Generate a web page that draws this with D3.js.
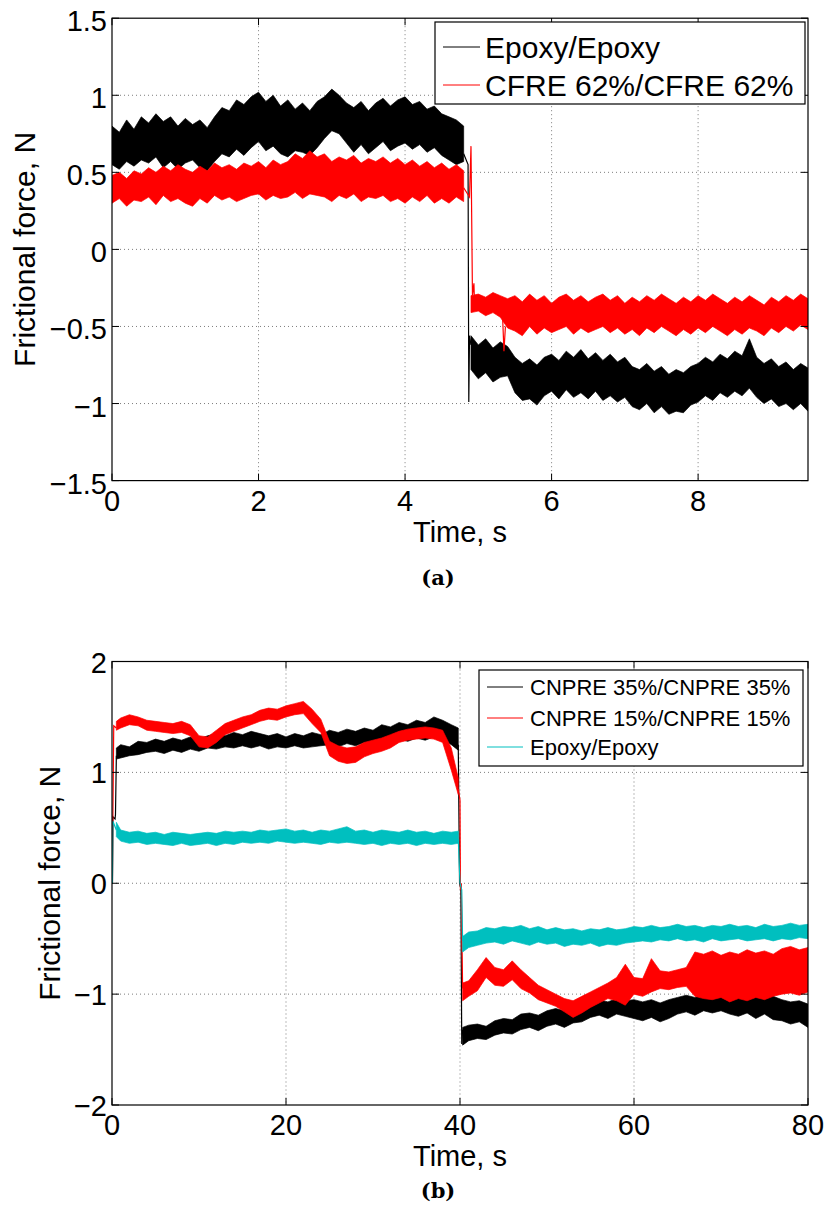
<!DOCTYPE html>
<html><head><meta charset="utf-8">
<script src="https://cdn.jsdelivr.net/npm/d3@7"></script>
<style>body{margin:0;background:#fff} svg{display:block}</style>
</head><body>
<svg id="chart" width="830" height="1220"></svg>
<script>
// ---------------- Panel (a) data ----------------
const xTicksA = [0, 2, 4, 6, 8];
const yTicksA = [-1.5, -1, -0.5, 0, 0.5, 1, 1.5];
const legendA = ["Epoxy/Epoxy", "CFRE 62%/CFRE 62%"];

const tA1 = [0,0.1,0.2,0.3,0.4,0.5,0.6,0.7,0.8,0.9,1.0,1.1,1.2,1.3,1.4,1.5,1.6,1.7,1.8,1.9,2.0,2.1,2.2,2.3,2.4,2.5,2.6,2.7,2.8,2.9,3.0,3.1,3.2,3.3,3.4,3.5,3.6,3.7,3.8,3.9,4.0,4.1,4.2,4.3,4.4,4.5,4.6,4.7,4.8];
const epoxyA_hi1 = [0.80,0.76,0.84,0.78,0.86,0.82,0.88,0.83,0.86,0.80,0.85,0.81,0.84,0.79,0.86,0.92,0.90,0.97,0.94,0.99,1.02,0.96,1.00,0.93,0.97,0.91,0.95,0.90,0.96,0.99,1.04,1.00,0.95,0.92,0.96,0.90,0.95,0.98,0.93,0.97,0.99,0.94,0.96,0.91,0.93,0.88,0.86,0.84,0.80];
const epoxyA_lo1 = [0.55,0.52,0.57,0.54,0.58,0.56,0.60,0.53,0.57,0.52,0.56,0.58,0.53,0.51,0.57,0.62,0.60,0.65,0.61,0.66,0.70,0.64,0.67,0.62,0.60,0.64,0.63,0.61,0.66,0.72,0.77,0.75,0.69,0.63,0.68,0.62,0.66,0.70,0.64,0.67,0.69,0.65,0.68,0.63,0.66,0.61,0.58,0.55,0.57];
const cfreA_hi1 = [0.48,0.50,0.46,0.51,0.49,0.53,0.50,0.54,0.51,0.55,0.52,0.50,0.54,0.51,0.56,0.53,0.55,0.52,0.56,0.54,0.57,0.53,0.58,0.55,0.57,0.62,0.59,0.64,0.60,0.62,0.57,0.60,0.58,0.61,0.56,0.59,0.57,0.60,0.56,0.59,0.55,0.58,0.54,0.57,0.53,0.56,0.52,0.55,0.51];
const cfreA_lo1 = [0.30,0.33,0.28,0.32,0.31,0.34,0.29,0.35,0.31,0.33,0.30,0.28,0.33,0.30,0.35,0.32,0.34,0.31,0.33,0.35,0.36,0.32,0.35,0.33,0.34,0.37,0.33,0.36,0.35,0.34,0.31,0.35,0.33,0.36,0.31,0.34,0.33,0.35,0.31,0.33,0.30,0.34,0.31,0.35,0.30,0.33,0.30,0.34,0.31];

const tA2 = [4.9,5.0,5.1,5.2,5.3,5.4,5.5,5.6,5.7,5.8,5.9,6.0,6.1,6.2,6.3,6.4,6.5,6.6,6.7,6.8,6.9,7.0,7.1,7.2,7.3,7.4,7.5,7.6,7.7,7.8,7.9,8.0,8.1,8.2,8.3,8.4,8.5,8.6,8.7,8.8,8.9,9.0,9.1,9.2,9.3,9.4,9.5];
const epoxyA_hi2 = [-0.56,-0.62,-0.58,-0.64,-0.60,-0.63,-0.70,-0.74,-0.71,-0.75,-0.70,-0.68,-0.72,-0.66,-0.70,-0.65,-0.71,-0.67,-0.72,-0.68,-0.73,-0.70,-0.76,-0.78,-0.74,-0.79,-0.76,-0.81,-0.78,-0.80,-0.76,-0.74,-0.70,-0.73,-0.68,-0.71,-0.66,-0.69,-0.58,-0.70,-0.74,-0.71,-0.76,-0.73,-0.78,-0.74,-0.77];
const epoxyA_lo2 = [-0.78,-0.84,-0.80,-0.86,-0.83,-0.82,-0.93,-0.98,-0.97,-1.01,-0.95,-0.92,-0.97,-0.91,-0.96,-0.93,-0.97,-0.92,-0.98,-0.95,-0.99,-0.96,-1.02,-1.04,-1.00,-1.06,-1.02,-1.07,-1.05,-1.06,-1.01,-0.99,-0.95,-0.98,-0.93,-0.96,-0.92,-0.95,-0.90,-0.96,-1.00,-0.97,-1.02,-1.00,-1.04,-1.00,-1.05];
const cfreA_hi2 = [-0.30,-0.29,-0.31,-0.28,-0.30,-0.32,-0.30,-0.34,-0.29,-0.33,-0.30,-0.35,-0.31,-0.29,-0.33,-0.30,-0.34,-0.31,-0.29,-0.33,-0.30,-0.35,-0.31,-0.34,-0.30,-0.33,-0.29,-0.32,-0.35,-0.31,-0.34,-0.30,-0.33,-0.29,-0.32,-0.35,-0.31,-0.34,-0.30,-0.33,-0.36,-0.31,-0.34,-0.30,-0.33,-0.29,-0.32];
const cfreA_lo2 = [-0.41,-0.40,-0.43,-0.41,-0.44,-0.51,-0.53,-0.56,-0.50,-0.55,-0.51,-0.54,-0.52,-0.50,-0.55,-0.51,-0.54,-0.52,-0.50,-0.54,-0.51,-0.55,-0.52,-0.56,-0.51,-0.54,-0.50,-0.53,-0.56,-0.52,-0.55,-0.51,-0.54,-0.50,-0.53,-0.56,-0.52,-0.55,-0.51,-0.53,-0.56,-0.51,-0.54,-0.50,-0.53,-0.49,-0.52];

// transitions / isolated spikes (time, value)
const epoxyA_jump = [[4.80,0.62],[4.86,0.55],[4.87,-0.99],[4.88,-0.56],[4.90,-0.62]];
const cfreA_jump = [[4.80,0.40],[4.88,0.34],[4.90,0.67],[4.92,-0.30],[4.94,-0.22],[4.95,-0.38]];
const cfreA_spike = [[5.33,-0.42],[5.35,-0.66],[5.37,-0.50]];

// ---------------- Panel (b) data ----------------
const xTicksB = [0, 20, 40, 60, 80];
const yTicksB = [-2, -1, 0, 1, 2];
const legendB = ["CNPRE 35%/CNPRE 35%", "CNPRE 15%/CNPRE 15%", "Epoxy/Epoxy"];

const tB1 = [0.5,1,2,3,4,5,6,7,8,9,10,11,12,13,14,15,16,17,18,19,20,21,22,23,24,25,26,27,28,29,30,31,32,33,34,35,36,37,38,39,39.8];
const cn35_hi1 = [1.22,1.25,1.23,1.28,1.27,1.30,1.28,1.31,1.29,1.32,1.30,1.33,1.35,1.33,1.36,1.34,1.37,1.35,1.33,1.35,1.32,1.35,1.33,1.36,1.34,1.38,1.36,1.39,1.37,1.40,1.38,1.43,1.41,1.45,1.43,1.47,1.45,1.50,1.47,1.43,1.40];
const cn35_lo1 = [1.12,1.13,1.15,1.16,1.18,1.19,1.17,1.20,1.18,1.21,1.19,1.22,1.21,1.23,1.22,1.24,1.22,1.24,1.21,1.23,1.22,1.24,1.22,1.23,1.24,1.25,1.23,1.26,1.24,1.27,1.25,1.28,1.27,1.30,1.28,1.31,1.29,1.32,1.30,1.25,1.20];
const cn15_hi1 = [1.46,1.49,1.52,1.50,1.47,1.46,1.45,1.44,1.46,1.43,1.33,1.32,1.38,1.44,1.47,1.50,1.52,1.56,1.58,1.57,1.60,1.62,1.64,1.57,1.48,1.28,1.24,1.22,1.23,1.27,1.29,1.31,1.34,1.37,1.39,1.40,1.41,1.40,1.38,1.22,0.95];
const cn15_lo1 = [1.38,1.40,1.43,1.42,1.38,1.37,1.36,1.35,1.36,1.33,1.23,1.22,1.27,1.34,1.37,1.40,1.43,1.46,1.48,1.47,1.50,1.52,1.53,1.44,1.36,1.15,1.10,1.08,1.09,1.14,1.17,1.19,1.22,1.27,1.29,1.30,1.31,1.30,1.27,1.02,0.80];
const epB_hi1 = [0.55,0.48,0.46,0.47,0.45,0.46,0.44,0.46,0.45,0.44,0.45,0.46,0.45,0.47,0.46,0.47,0.46,0.48,0.47,0.48,0.49,0.47,0.48,0.46,0.48,0.47,0.49,0.51,0.47,0.48,0.46,0.48,0.47,0.46,0.48,0.46,0.47,0.45,0.47,0.46,0.47];
const epB_lo1 = [0.42,0.38,0.36,0.37,0.35,0.36,0.35,0.34,0.36,0.34,0.35,0.36,0.34,0.36,0.35,0.37,0.36,0.37,0.36,0.38,0.37,0.36,0.37,0.36,0.35,0.37,0.36,0.37,0.36,0.35,0.36,0.34,0.36,0.35,0.36,0.34,0.36,0.35,0.36,0.35,0.36];

const tB2 = [40.3,41,42,43,44,45,46,47,48,49,50,51,52,53,54,55,56,57,58,59,60,61,62,63,64,65,66,67,68,69,70,71,72,73,74,75,76,77,78,79,80];
const cn35_hi2 = [-1.30,-1.28,-1.27,-1.29,-1.24,-1.22,-1.23,-1.18,-1.17,-1.19,-1.15,-1.13,-1.15,-1.12,-1.10,-1.07,-1.05,-1.07,-1.04,-1.06,-1.05,-1.07,-1.05,-1.08,-1.05,-1.03,-1.01,-1.03,-1.00,-1.02,-0.99,-1.02,-1.00,-1.03,-1.01,-0.99,-1.02,-1.05,-1.07,-1.06,-1.09];
const cn35_lo2 = [-1.46,-1.42,-1.40,-1.41,-1.37,-1.35,-1.36,-1.32,-1.30,-1.33,-1.29,-1.27,-1.30,-1.26,-1.25,-1.21,-1.19,-1.22,-1.18,-1.20,-1.22,-1.24,-1.21,-1.25,-1.22,-1.18,-1.16,-1.19,-1.15,-1.17,-1.15,-1.18,-1.20,-1.17,-1.22,-1.18,-1.23,-1.24,-1.27,-1.25,-1.30];
const cn15_hi2 = [-0.90,-0.88,-0.78,-0.67,-0.76,-0.78,-0.70,-0.78,-0.85,-0.92,-0.96,-1.00,-1.04,-1.06,-1.02,-0.98,-0.94,-0.90,-0.85,-0.73,-0.85,-0.86,-0.68,-0.79,-0.80,-0.78,-0.76,-0.62,-0.64,-0.61,-0.65,-0.62,-0.64,-0.60,-0.63,-0.61,-0.64,-0.59,-0.57,-0.60,-0.58];
const cn15_lo2 = [-1.06,-1.02,-0.97,-0.85,-0.92,-0.93,-0.87,-0.95,-0.99,-1.05,-1.08,-1.11,-1.16,-1.21,-1.17,-1.12,-1.08,-1.04,-1.06,-1.10,-1.00,-1.02,-0.98,-0.95,-0.96,-0.94,-0.93,-1.02,-1.04,-1.05,-1.03,-1.07,-1.04,-1.06,-1.03,-1.05,-1.02,-1.00,-0.99,-1.01,-0.98];
const epB_hi2 = [-0.48,-0.44,-0.43,-0.40,-0.41,-0.39,-0.40,-0.38,-0.41,-0.39,-0.42,-0.40,-0.42,-0.41,-0.43,-0.41,-0.42,-0.40,-0.42,-0.41,-0.39,-0.40,-0.38,-0.40,-0.39,-0.37,-0.39,-0.38,-0.40,-0.38,-0.39,-0.37,-0.39,-0.38,-0.40,-0.37,-0.39,-0.38,-0.36,-0.38,-0.37];
const epB_lo2 = [-0.62,-0.58,-0.56,-0.54,-0.53,-0.55,-0.52,-0.54,-0.56,-0.53,-0.55,-0.54,-0.57,-0.55,-0.56,-0.54,-0.57,-0.55,-0.56,-0.54,-0.53,-0.52,-0.53,-0.51,-0.52,-0.50,-0.52,-0.51,-0.53,-0.50,-0.52,-0.51,-0.50,-0.52,-0.51,-0.50,-0.52,-0.50,-0.51,-0.49,-0.50];

const cn35_start = [[0.05,0.0],[0.10,0.60],[0.35,0.58],[0.40,0.62],[0.50,1.15]];
const cn35_jump = [[39.8,1.25],[39.95,0.0],[40.1,-0.05],[40.2,-1.45],[40.3,-1.32]];
const cn15_start = [[0.05,0.0],[0.10,0.60],[0.20,1.42],[0.50,1.40]];
const cn15_jump = [[39.8,0.85],[40.0,0.75],[40.05,-0.06],[40.15,0.0],[40.3,-0.95]];
const epB_start = [[0.0,0.0],[0.05,0.0],[0.10,0.56],[0.50,0.48]];
const epB_jump = [[39.8,0.40],[40.0,0.0],[40.2,-0.06],[40.3,-0.52]];

// ---------------- drawing ----------------
const svg = d3.select("#chart");
const FONT = "'Liberation Sans', Arial, Helvetica, sans-serif";
const fmt = v => (v < 0 ? "\u2212" : "") + Math.abs(v);

function band(t, hi, lo) { return t.map((tt, i) => ({t: tt, hi: hi[i], lo: lo[i]})); }

function drawPanel(cfg) {
  const x = d3.scaleLinear().domain(cfg.xDomain).range([cfg.left, cfg.right]);
  const y = d3.scaleLinear().domain(cfg.yDomain).range([cfg.bottom, cfg.top]);
  const g = svg.append("g");
  const clipId = "clip" + cfg.id;
  g.append("clipPath").attr("id", clipId).append("rect")
    .attr("x", cfg.left).attr("y", cfg.top).attr("width", cfg.right - cfg.left).attr("height", cfg.bottom - cfg.top);

  // grid
  const grid = g.append("g").attr("stroke", "#6e6e6e").attr("stroke-width", 0.9).attr("stroke-dasharray", "1,3");
  cfg.xTicks.filter(v => v > cfg.xDomain[0] && v < cfg.xDomain[1]).forEach(v => {
    grid.append("line").attr("x1", x(v)).attr("x2", x(v)).attr("y1", cfg.top).attr("y2", cfg.bottom);
  });
  cfg.yTicks.filter(v => v > cfg.yDomain[0] && v < cfg.yDomain[1]).forEach(v => {
    grid.append("line").attr("x1", cfg.left).attr("x2", cfg.right).attr("y1", y(v)).attr("y2", y(v));
  });

  // series
  const plot = g.append("g").attr("clip-path", `url(#${clipId})`);
  const area = d3.area().x(d => x(d.t)).y0(d => y(d.lo)).y1(d => y(d.hi));
  const line = d3.line().x(d => x(d[0])).y(d => y(d[1]));
  cfg.series.forEach(s => {
    s.bands.forEach(b => {
      plot.append("path").datum(b).attr("d", area)
        .attr("fill", s.color).attr("stroke", s.color).attr("stroke-width", 0.7).attr("stroke-linejoin", "miter");
    });
    s.lines.forEach(l => {
      plot.append("path").datum(l).attr("d", line)
        .attr("fill", "none").attr("stroke", s.color).attr("stroke-width", 1.2);
    });
  });

  // box and ticks
  g.append("rect").attr("x", cfg.left).attr("y", cfg.top)
    .attr("width", cfg.right - cfg.left).attr("height", cfg.bottom - cfg.top)
    .attr("fill", "none").attr("stroke", "#000").attr("stroke-width", 1.2);
  const tl = 7;
  const ticks = g.append("g").attr("stroke", "#000").attr("stroke-width", 1);
  cfg.xTicks.forEach(v => {
    ticks.append("line").attr("x1", x(v)).attr("x2", x(v)).attr("y1", cfg.bottom).attr("y2", cfg.bottom - tl);
    ticks.append("line").attr("x1", x(v)).attr("x2", x(v)).attr("y1", cfg.top).attr("y2", cfg.top + tl);
  });
  cfg.yTicks.forEach(v => {
    ticks.append("line").attr("x1", cfg.left).attr("x2", cfg.left + tl).attr("y1", y(v)).attr("y2", y(v));
    ticks.append("line").attr("x1", cfg.right).attr("x2", cfg.right - tl).attr("y1", y(v)).attr("y2", y(v));
  });

  // tick labels
  const lab = g.append("g").attr("font-family", FONT).attr("fill", "#000");
  cfg.xTicks.forEach(v => {
    lab.append("text").attr("x", x(v)).attr("y", cfg.bottom + 30).attr("font-size", 29)
      .attr("text-anchor", "middle").text(fmt(v));
  });
  cfg.yTicks.forEach(v => {
    lab.append("text").attr("x", cfg.left - 5).attr("y", y(v) + cfg.yLabOff).attr("font-size", 29)
      .attr("text-anchor", "end").text(fmt(v));
  });
  lab.append("text").attr("x", (cfg.left + cfg.right) / 2).attr("y", cfg.bottom + 61).attr("font-size", 29)
    .attr("text-anchor", "middle").text("Time, s");
  lab.append("text").attr("transform", `translate(${cfg.yTitleX},${(cfg.top + cfg.bottom) / 2}) rotate(-90)`)
    .attr("font-size", 30).attr("text-anchor", "middle").text("Frictional force, N");

  // legend
  const L = cfg.legend;
  const lg = g.append("g");
  lg.append("rect").attr("x", L.x).attr("y", L.y).attr("width", L.w).attr("height", L.h)
    .attr("fill", "#fff").attr("stroke", "#000").attr("stroke-width", 1.2);
  L.labels.forEach((txt, i) => {
    const cy = L.rowY[i];
    lg.append("line").attr("x1", L.lineX[0]).attr("x2", L.lineX[1]).attr("y1", cy).attr("y2", cy)
      .attr("stroke", cfg.series[i].color).attr("stroke-width", 1);
    lg.append("text").attr("x", L.textX).attr("y", cy).attr("dy", "0.35em")
      .attr("font-family", FONT).attr("font-size", L.fs).attr("fill", "#000").text(txt);
  });

  // sub caption
  svg.append("text").attr("x", (cfg.left + cfg.right) / 2 - 22).attr("y", cfg.capY)
    .attr("text-anchor", "middle").attr("font-family", "'DejaVu Serif', serif").attr("font-weight", "bold")
    .attr("font-size", 21).text(cfg.caption);
}

drawPanel({
  id: "A", left: 112, right: 808, top: 18.2, bottom: 480.6,
  xDomain: [0, 9.5], yDomain: [-1.5, 1.5], xTicks: xTicksA, yTicks: yTicksA,
  yLabOff: 13, yTitleX: 35, capY: 585, caption: "(a)",
  series: [
    {color: "#000000", bands: [band(tA1, epoxyA_hi1, epoxyA_lo1), band(tA2, epoxyA_hi2, epoxyA_lo2)], lines: [epoxyA_jump]},
    {color: "#ff0000", bands: [band(tA1, cfreA_hi1, cfreA_lo1), band(tA2, cfreA_hi2, cfreA_lo2)], lines: [cfreA_jump, cfreA_spike]}
  ],
  legend: {x: 435, y: 22, w: 370, h: 82, rowY: [47, 85], lineX: [443, 480], textX: 485, fs: 30, labels: legendA}
});

drawPanel({
  id: "B", left: 112, right: 808, top: 661.5, bottom: 1105,
  xDomain: [0, 80], yDomain: [-2, 2], xTicks: xTicksB, yTicks: yTicksB,
  yLabOff: 11, yTitleX: 60, capY: 1198, caption: "(b)",
  series: [
    {color: "#000000", bands: [band(tB1, cn35_hi1, cn35_lo1), band(tB2, cn35_hi2, cn35_lo2)], lines: [cn35_start, cn35_jump]},
    {color: "#ff0000", bands: [band(tB1, cn15_hi1, cn15_lo1), band(tB2, cn15_hi2, cn15_lo2)], lines: [cn15_start, cn15_jump]},
    {color: "#00bfbf", bands: [band(tB1, epB_hi1, epB_lo1), band(tB2, epB_hi2, epB_lo2)], lines: [epB_start, epB_jump]}
  ],
  legend: {x: 479, y: 670, w: 324, h: 96, rowY: [687, 718, 747], lineX: [487, 523], textX: 530, fs: 22, labels: legendB}
});
</script>
</body></html>
